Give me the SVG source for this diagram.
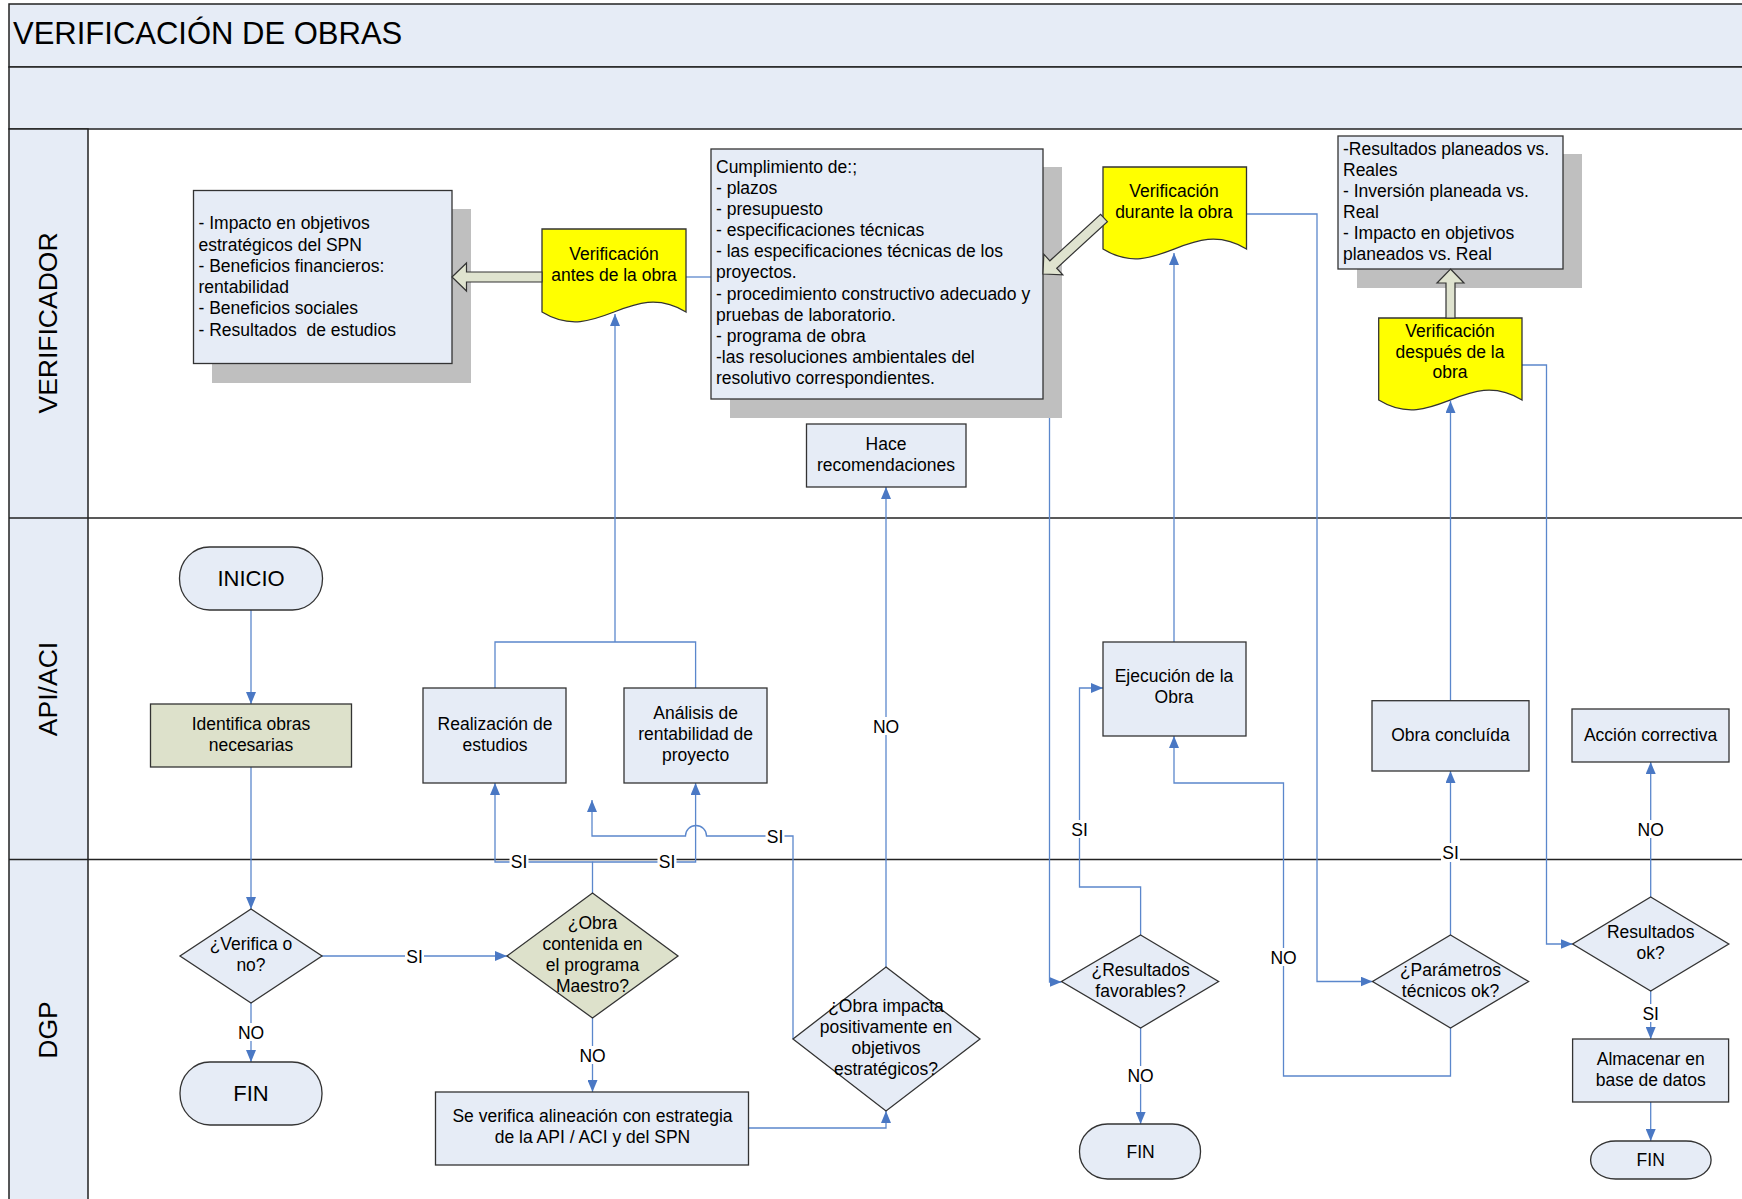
<svg xmlns="http://www.w3.org/2000/svg" width="1742" height="1199" viewBox="0 0 1742 1199">
<style>
.t{font-family:"Liberation Sans",Arial,sans-serif;font-size:17.5px;fill:#000}
.c{text-anchor:middle}
.box{fill:#E6ECF6;stroke:#333;stroke-width:1.3}
.olive{fill:#DDE1CB;stroke:#333;stroke-width:1.3}
.doc{fill:#FFFF00;stroke:#333;stroke-width:1.3}
.sh{fill:#BFBFBF}
.frame{fill:#E6ECF6;stroke:#222;stroke-width:1.5}
.ln{stroke:#222;stroke-width:1.5}
.conn{fill:none;stroke:#5B87CC;stroke-width:1.3}
.arr{marker-end:url(#ah)}
.bg{fill:#fff}
.blk{fill:#DFE3CF;stroke:#333;stroke-width:1.2}
</style>
<defs>
<marker id="ah" markerUnits="userSpaceOnUse" markerWidth="12" markerHeight="10" refX="12" refY="5" orient="auto">
<path d="M0,0 L12,5 L0,10 z" fill="#4A78C4"/>
</marker>
</defs>
<rect width="1742" height="1199" fill="#fff"/>
<g id="lanes">
<rect class="frame" x="9" y="4" width="1745" height="63"/>
<rect class="frame" x="9" y="67" width="1745" height="62"/>
<rect class="frame" x="9" y="129" width="79" height="1080"/>
<line class="ln" x1="9" y1="518" x2="1742" y2="518"/>
<line class="ln" x1="9" y1="859.5" x2="1742" y2="859.5"/>
<text x="13" y="44" style="font-family:'Liberation Sans',Arial,sans-serif;font-size:31px">VERIFICACIÓN DE OBRAS</text>
<text transform="translate(57,323) rotate(-90)" class="c" style="font-family:'Liberation Sans',Arial,sans-serif;font-size:26.5px">VERIFICADOR</text>
<text transform="translate(57,689) rotate(-90)" class="c" style="font-family:'Liberation Sans',Arial,sans-serif;font-size:26.5px">API/ACI</text>
<text transform="translate(57,1030) rotate(-90)" class="c" style="font-family:'Liberation Sans',Arial,sans-serif;font-size:26.5px">DGP</text>
</g>
<g id="connectors">
<path class="conn arr" d="M251,610 V704"/>
<path class="conn arr" d="M251,767 V909"/>
<path class="conn arr" d="M322,956 H507"/>
<path class="conn arr" d="M251,1003 V1062"/>
<path class="conn arr" d="M592.5,1018 V1092"/>
<path class="conn arr" d="M592.5,893 V862 H495 V783"/>
<path class="conn arr" d="M592.5,862 H695.6 V783"/>
<path class="conn arr" d="M749,1128 H886 V1111"/>
<path class="conn arr" d="M886,967 V487"/>
<path class="conn arr" d="M793,1039 V836 H706.5 A10.5,10.5 0 0 0 685.5,836 H592 V800"/>
<path class="conn" d="M495,688 V642 H695.6 V688"/>
<path class="conn arr" d="M615,642 V314"/>
<path class="conn" d="M686,277 H711"/>
<path class="conn arr" d="M1049.5,399 V982 H1061.5"/>
<path class="conn arr" d="M1174,642 V253"/>
<path class="conn arr" d="M1246.5,214 H1317 V981.5 H1372.5"/>
<path class="conn arr" d="M1140.6,935 V887 H1079.5 V688 H1103"/>
<path class="conn arr" d="M1140.6,1028 V1124"/>
<path class="conn arr" d="M1450.5,1028 V1076 H1283.5 V783 H1174 V736"/>
<path class="conn arr" d="M1450.5,935 V771"/>
<path class="conn arr" d="M1450.5,700.7 V401"/>
<path class="conn arr" d="M1522,365 H1546.5 V944 H1572.6"/>
<path class="conn arr" d="M1650.7,897 V762"/>
<path class="conn arr" d="M1650.7,991 V1039"/>
<path class="conn arr" d="M1650.7,1102 V1141"/>
<g id="labels" class="t c">
<rect class="bg" x="405" y="947" width="19" height="18"/><text x="414.5" y="962.5">SI</text>
<rect class="bg" x="237" y="1023" width="28" height="18"/><text x="251" y="1038.5">NO</text>
<rect class="bg" x="578.5" y="1046" width="28" height="18"/><text x="592.5" y="1061.5">NO</text>
<rect class="bg" x="509.5" y="852" width="19" height="18"/><text x="519" y="867.5">SI</text>
<rect class="bg" x="657.5" y="852" width="19" height="18"/><text x="667" y="867.5">SI</text>
<rect class="bg" x="872" y="717" width="28" height="18"/><text x="886" y="732.5">NO</text>
<rect class="bg" x="765.5" y="827" width="19" height="18"/><text x="775" y="842.5">SI</text>
<rect class="bg" x="1070" y="820" width="19" height="18"/><text x="1079.5" y="835.5">SI</text>
<rect class="bg" x="1126.6" y="1066" width="28" height="18"/><text x="1140.6" y="1081.5">NO</text>
<rect class="bg" x="1269.5" y="948" width="28" height="18"/><text x="1283.5" y="963.5">NO</text>
<rect class="bg" x="1441" y="843" width="19" height="19"/><text x="1450.5" y="858.5">SI</text>
<rect class="bg" x="1636.7" y="820" width="28" height="18"/><text x="1650.7" y="835.5">NO</text>
<rect class="bg" x="1641.2" y="1004" width="19" height="18"/><text x="1650.7" y="1019.5">SI</text>
</g>
</g>
<g id="n-impacto">
<rect class="sh" x="212" y="209" width="259" height="174"/>
<rect class="box" x="193.5" y="190.5" width="258.5" height="173"/>
<text class="t" x="198.5"><tspan x="198.5" y="229">- Impacto en objetivos</tspan><tspan x="198.5" y="250.5">estratégicos del SPN</tspan><tspan x="198.5" y="272">- Beneficios financieros:</tspan><tspan x="198.5" y="293">rentabilidad</tspan><tspan x="198.5" y="314">- Beneficios sociales</tspan><tspan x="198.5" y="335.5" xml:space="preserve">- Resultados  de estudios</tspan></text>
</g>
<g id="n-antes">
<path class="doc" d="M542,229 H686 V312 C630,278 598,346 542,312 Z"/>
<text class="t c"><tspan x="614" y="260">Verificación</tspan><tspan x="614" y="281">antes de la obra</tspan></text>
</g>
<g id="n-cumplimiento">
<rect class="sh" x="730" y="167" width="332" height="251"/>
<rect class="box" x="711" y="149" width="332" height="250"/>
<text class="t"><tspan x="716" y="173">Cumplimiento de:;</tspan><tspan x="716" y="194">- plazos</tspan><tspan x="716" y="215">- presupuesto</tspan><tspan x="716" y="236">- especificaciones técnicas</tspan><tspan x="716" y="257">- las especificaciones técnicas de los</tspan><tspan x="716" y="278">proyectos.</tspan><tspan x="716" y="300">- procedimiento constructivo adecuado y</tspan><tspan x="716" y="321">pruebas de laboratorio.</tspan><tspan x="716" y="342">- programa de obra</tspan><tspan x="716" y="363">-las resoluciones ambientales del</tspan><tspan x="716" y="384">resolutivo correspondientes.</tspan></text>
</g>
<g id="n-durante">
<path class="doc" d="M1103,167 H1246.5 V249 C1190,215 1158,283 1103,249 Z"/>
<text class="t c"><tspan x="1174" y="197">Verificación</tspan><tspan x="1174" y="218">durante la obra</tspan></text>
</g>
<g id="n-resultados-box">
<rect class="sh" x="1357" y="154" width="225" height="134"/>
<rect class="box" x="1338" y="136" width="225" height="133"/>
<text class="t"><tspan x="1343" y="155">-Resultados planeados vs.</tspan><tspan x="1343" y="176">Reales</tspan><tspan x="1343" y="197">- Inversión planeada vs.</tspan><tspan x="1343" y="218">Real</tspan><tspan x="1343" y="239">- Impacto en objetivos</tspan><tspan x="1343" y="260">planeados vs. Real</tspan></text>
</g>
<g id="n-despues">
<path class="doc" d="M1378.7,318 H1522 V400 C1466,366 1434,434 1378.7,400 Z"/>
<text class="t c"><tspan x="1450" y="337">Verificación</tspan><tspan x="1450" y="358">después de la</tspan><tspan x="1450" y="378">obra</tspan></text>
</g>
<g id="n-hace">
<rect class="box" x="806.5" y="424" width="159.5" height="63"/>
<text class="t c"><tspan x="886" y="450">Hace</tspan><tspan x="886" y="471">recomendaciones</tspan></text>
</g>
<g id="n-inicio">
<rect class="box" x="179.5" y="547" width="143" height="63" rx="30" ry="31"/>
<text class="c" x="251" y="586" style="font-family:'Liberation Sans',Arial,sans-serif;font-size:22px">INICIO</text>
</g>
<g id="n-identifica">
<rect class="olive" x="150.5" y="704" width="201" height="63"/>
<text class="t c"><tspan x="251" y="730">Identifica obras</tspan><tspan x="251" y="751">necesarias</tspan></text>
</g>
<g id="n-realizacion">
<rect class="box" x="423" y="688" width="143" height="95"/>
<text class="t c"><tspan x="495" y="730">Realización de</tspan><tspan x="495" y="751">estudios</tspan></text>
</g>
<g id="n-analisis">
<rect class="box" x="624" y="688" width="143" height="95"/>
<text class="t c"><tspan x="695.6" y="719">Análisis de</tspan><tspan x="695.6" y="740">rentabilidad de</tspan><tspan x="695.6" y="761">proyecto</tspan></text>
</g>
<g id="n-ejecucion">
<rect class="box" x="1103" y="642" width="143" height="94"/>
<text class="t c"><tspan x="1174" y="682">Ejecución de la</tspan><tspan x="1174" y="703">Obra</tspan></text>
</g>
<g id="n-concluida">
<rect class="box" x="1372" y="700.7" width="157" height="70.3"/>
<text class="t c" x="1450.5" y="741">Obra concluída</text>
</g>
<g id="n-accion">
<rect class="box" x="1572" y="709" width="157" height="53"/>
<text class="t c" x="1650.5" y="741">Acción correctiva</text>
</g>
<g id="n-verifica">
<polygon class="box" points="251,909 322,956 251,1003 180,956"/>
<text class="t c"><tspan x="251" y="950">¿Verifica o</tspan><tspan x="251" y="971">no?</tspan></text>
</g>
<g id="n-fin1">
<rect class="box" x="180" y="1062" width="142" height="63" rx="30" ry="31"/>
<text class="c" x="251" y="1101" style="font-family:'Liberation Sans',Arial,sans-serif;font-size:22px">FIN</text>
</g>
<g id="n-contenida">
<polygon class="olive" points="592.5,893 678,956 592.5,1018 507,956"/>
<text class="t c"><tspan x="592.5" y="929">¿Obra</tspan><tspan x="592.5" y="950">contenida en</tspan><tspan x="592.5" y="971">el programa</tspan><tspan x="592.5" y="992">Maestro?</tspan></text>
</g>
<g id="n-alineacion">
<rect class="box" x="435.5" y="1092" width="313" height="73"/>
<text class="t c"><tspan x="592.5" y="1122">Se verifica alineación con estrategia</tspan><tspan x="592.5" y="1143">de la API / ACI y del SPN</tspan></text>
</g>
<g id="n-impacta">
<polygon class="box" points="886,967 980,1039 886,1111 793,1039"/>
<text class="t c"><tspan x="886" y="1012">¿Obra impacta</tspan><tspan x="886" y="1033">positivamente en</tspan><tspan x="886" y="1054">objetivos</tspan><tspan x="886" y="1075">estratégicos?</tspan></text>
</g>
<g id="n-favorables">
<polygon class="box" points="1140.6,935 1218.6,981.5 1140.6,1028 1061.5,981.5"/>
<text class="t c"><tspan x="1140.6" y="976">¿Resultados</tspan><tspan x="1140.6" y="997">favorables?</tspan></text>
</g>
<g id="n-fin2">
<rect class="box" x="1079.5" y="1124" width="121" height="55" rx="28" ry="27"/>
<text class="t c" x="1140.6" y="1158">FIN</text>
</g>
<g id="n-parametros">
<polygon class="box" points="1450.5,935 1528.6,981.5 1450.5,1028 1372.5,981.5"/>
<text class="t c"><tspan x="1450.5" y="976">¿Parámetros</tspan><tspan x="1450.5" y="997">técnicos ok?</tspan></text>
</g>
<g id="n-resok">
<polygon class="box" points="1650.7,897 1728.8,944 1650.7,991 1572.6,944"/>
<text class="t c"><tspan x="1650.7" y="938">Resultados</tspan><tspan x="1650.7" y="959">ok?</tspan></text>
</g>
<g id="n-almacenar">
<rect class="box" x="1572.6" y="1039" width="156" height="63"/>
<text class="t c"><tspan x="1650.7" y="1065">Almacenar en</tspan><tspan x="1650.7" y="1086">base de datos</tspan></text>
</g>
<g id="n-fin3">
<rect class="box" x="1590.6" y="1141" width="120.5" height="38" rx="25" ry="19"/>
<text class="t c" x="1650.7" y="1166">FIN</text>
</g>
<g id="block-arrows">
<polygon class="blk" points="452,277 466.5,263 466.5,272 542,272 542,282 466.5,282 466.5,291"/>
<polygon class="blk" points="1043,274 1062.8,274.8 1056.7,268.2 1107.4,221.7 1100.6,214.3 1049.9,260.8 1043.8,254.2"/>
<polygon class="blk" points="1450.5,269 1464,283 1455,283 1455,318 1446,318 1446,283 1437,283"/>
</g>
</svg>
